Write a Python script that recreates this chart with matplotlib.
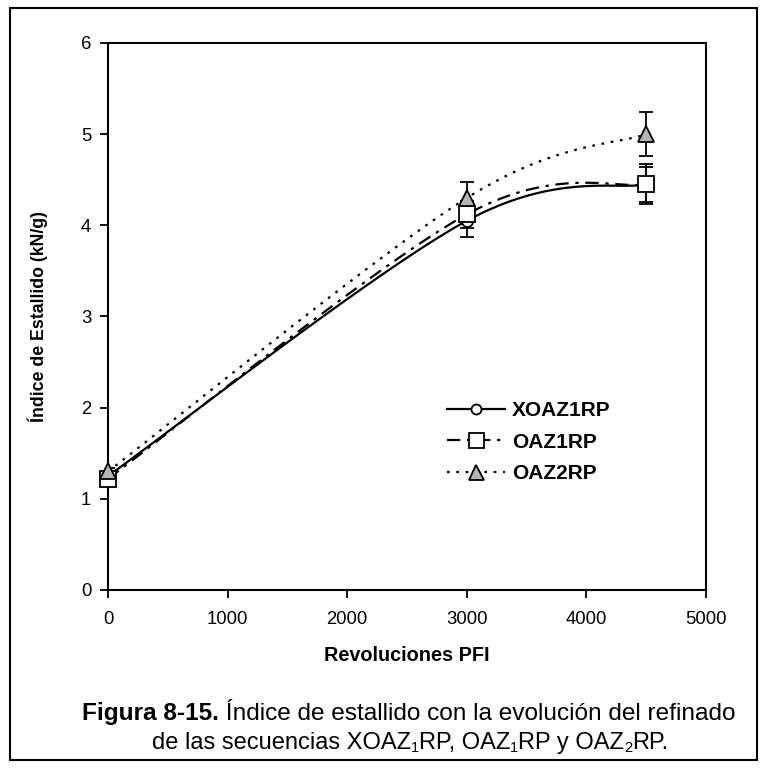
import numpy as np
import matplotlib
matplotlib.use("Agg")
import matplotlib.pyplot as plt
from matplotlib.patches import Rectangle
from matplotlib.lines import Line2D

plt.rcParams['font.family'] = ['Liberation Sans', 'DejaVu Sans']

# data
revs = [0, 3000, 4500]
names = ["XOAZ1RP", "OAZ1RP", "OAZ2RP"]
xoaz1 = [1.25, 4.05, 4.45]
oaz1 = [1.22, 4.12, 4.45]
oaz2 = [1.30, 4.30, 5.00]
err_xoaz1 = [0.04, 0.18, 0.22]
err_oaz1 = [0.04, 0.15, 0.19]
err_oaz2 = [0.04, 0.17, 0.24]


def smooth(ax, xs, ys, n=40):
    # excel style smoothed line: cubic bezier between points, done in screen space
    pts = ax.transData.transform(np.column_stack([xs, ys]))
    ext = np.vstack([pts[0], pts, pts[-1]])
    out = []
    t = np.linspace(0, 1, n)[:, None]
    for i in range(len(pts) - 1):
        p0, p3 = ext[i + 1], ext[i + 2]
        c1 = p0 + (ext[i + 2] - ext[i]) / 6
        c2 = p3 - (ext[i + 3] - ext[i + 1]) / 6
        seg = (1 - t) ** 3 * p0 + 3 * (1 - t) ** 2 * t * c1 + 3 * (1 - t) * t ** 2 * c2 + t ** 3 * p3
        out.append(seg)
    out = np.vstack(out)
    d = ax.transData.inverted().transform(out)
    return d[:, 0], d[:, 1]


def text_line(fig, renderer, parts, cx, y, fs):
    # parts: (text, weight, is_sub); laid out left to right, centred on cx (pixels)
    objs = []
    total = 0
    for txt, wt, sub in parts:
        size = fs * 0.62 if sub else fs
        t = fig.text(0, 0, txt, fontsize=size, fontweight=wt, va='baseline')
        w = t.get_window_extent(renderer).width
        objs.append((t, w, sub))
        total += w
    x = cx - total / 2
    for t, w, sub in objs:
        yy = y + (3 if sub else 0)
        t.set_position((x / W, 1 - yy / H))
        x += w


fig = plt.figure(figsize=(7.67, 7.71), dpi=100)
W, H = 767, 771
ax = fig.add_axes([108 / W, 1 - 590 / H, 598 / W, 547 / H])
ax.set_xlim(0, 5000)
ax.set_ylim(0, 6)

# outer frame
fig.patches.append(Rectangle((10 / W, 1 - 760 / H), 747 / W, 752 / H, transform=fig.transFigure,
                             fill=False, edgecolor='black', linewidth=1.5))

styles = [
    dict(ls='-', marker='o', mfc='white', ms=8),
    dict(ls=(0, (6, 3, 1.5, 3)), marker='s', mfc='white', ms=12),
    dict(ls=(0, (1.2, 3)), marker='^', mfc='#b4b4b4', ms=12),
]
series = [xoaz1, oaz1, oaz2]
errs = [err_xoaz1, err_oaz1, err_oaz2]

handles = []
for ys, e, st in zip(series, errs, styles):
    sx, sy = smooth(ax, revs, ys)
    ax.plot(sx, sy, color='black', lw=1.6, ls=st['ls'], zorder=2)
for ys, e, st in zip(series, errs, styles):
    ax.errorbar(revs, ys, yerr=e, fmt='none', ecolor='black', elinewidth=1.3, capsize=5, capthick=1.3, zorder=3)
for ys, e, st in zip(series, errs, styles):
    ax.plot(revs, ys, ls='none', marker=st['marker'], mfc=st['mfc'], mec='black', mew=1.3, ms=st['ms'],
            zorder=4, clip_on=False)
for nm, st in zip(names, styles):
    handles.append(Line2D([], [], color='black', lw=1.6, ls=st['ls'], marker=st['marker'],
                          mfc=st['mfc'], mec='black', mew=1.3, ms=st['ms'] * 0.9, label=nm))

ax.legend(handles=handles, loc='upper left', bbox_to_anchor=(0.567, 0.345), frameon=False,
          prop={'weight': 'bold', 'size': 15}, handlelength=2.8, handletextpad=0.3, labelspacing=0.6,
          borderpad=0, borderaxespad=0)

ax.set_xticks([0, 1000, 2000, 3000, 4000, 5000])
ax.set_yticks([0, 1, 2, 3, 4, 5, 6])
ax.tick_params(direction='out', length=6, width=1.3, labelsize=13.3, pad=6)
ax.tick_params(axis='x', pad=9)
for s in ax.spines.values():
    s.set_linewidth(1.5)
ax.set_xlabel("Revoluciones PFI", fontsize=14.3, fontweight='bold', labelpad=13)
ax.set_ylabel("Índice de Estallido (kN/g)", fontsize=12.8, fontweight='bold', labelpad=24)

# caption
renderer = fig.canvas.get_renderer()
text_line(fig, renderer, [("Figura 8-15.", 'bold', False),
                          (" Índice de estallido con la evolución del refinado", 'normal', False)],
          409, 720, 17.6)
text_line(fig, renderer, [("de las secuencias XOAZ", 'normal', False), ("1", 'normal', True),
                          ("RP, OAZ", 'normal', False), ("1", 'normal', True),
                          ("RP y OAZ", 'normal', False), ("2", 'normal', True),
                          ("RP.", 'normal', False)],
          410, 749, 17.0)

fig.savefig("out.png", dpi=100)
